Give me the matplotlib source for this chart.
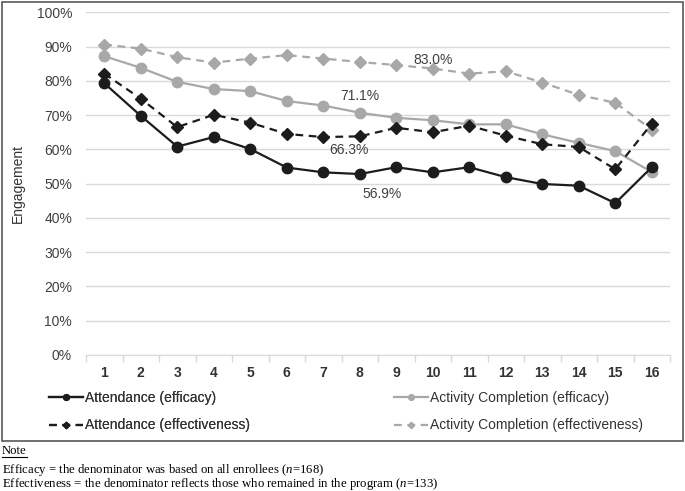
import matplotlib
matplotlib.use("Agg")
import matplotlib.pyplot as plt
from matplotlib.lines import Line2D
from matplotlib.patches import Rectangle
from matplotlib.ticker import FixedLocator, PercentFormatter

plt.rcParams['font.family'] = ['Liberation Sans', 'DejaVu Sans']
plt.rcParams['mathtext.fontset'] = 'custom'
plt.rcParams['mathtext.rm'] = 'Liberation Serif'
plt.rcParams['mathtext.it'] = 'Liberation Serif:italic'

sessions = list(range(1, 17))
attendance_efficacy = [79.3, 69.8, 60.8, 63.6, 60.1, 54.7, 53.3, 52.8, 54.8, 53.3, 54.8, 51.9, 49.9, 49.4, 44.3, 54.8]
activity_efficacy = [87.2, 83.8, 79.7, 77.6, 77.0, 74.1, 72.8, 70.7, 69.2, 68.5, 67.3, 67.3, 64.4, 61.9, 59.5, 53.4]
attendance_effectiveness = [82.1, 74.8, 66.5, 70.1, 67.8, 64.5, 63.6, 63.8, 66.3, 65.0, 66.9, 64.0, 61.5, 60.7, 54.2, 67.5]
activity_effectiveness = [90.6, 89.4, 86.9, 85.3, 86.5, 87.5, 86.5, 85.5, 84.6, 83.6, 82.1, 82.8, 79.5, 75.9, 73.6, 65.8]

annotations = [("83.0%", 10, 86.0), ("71.1%", 8, 75.5), ("66.3%", 7.7, 59.7), ("56.9%", 8.6, 47.0)]

W, H = 685, 491
fig = plt.figure(figsize=(W / 100, H / 100), dpi=100)
ax = fig.add_axes([86 / W, 1 - 355 / H, (670 - 86) / W, (355 - 12.3) / H])

BLACK = '#1c1c1c'
GRAY = '#a8a8a8'

l1, = ax.plot(sessions, attendance_efficacy, color=BLACK, lw=1.6, marker='o', ms=7.5, zorder=4)
l2, = ax.plot(sessions, activity_efficacy, color=GRAY, lw=1.6, marker='o', ms=7.5, zorder=3)
l3, = ax.plot(sessions, attendance_effectiveness, color=BLACK, lw=1.6, ls=(0, (3.5, 2.5)), marker='D', ms=6, zorder=4)
l4, = ax.plot(sessions, activity_effectiveness, color=GRAY, lw=1.6, ls=(0, (3.5, 2.5)), marker='D', ms=6, zorder=3)

for txt, x, y in annotations:
    ax.text(x, y, txt, ha='center', va='center', fontsize=10, color='#404040')

ax.set_xlim(0.5, 16.5)
ax.set_ylim(0, 100)
ax.set_yticks(range(0, 101, 10))
ax.yaxis.set_major_formatter(PercentFormatter(decimals=0))
ax.tick_params(axis='y', length=0, pad=10, labelsize=10, labelcolor='#404040')
ax.grid(axis='y', color='#d9d9d9', lw=1)
ax.set_axisbelow(True)

ax.set_xticks(sessions)
ax.set_xticklabels([str(s) for s in sessions], fontweight='bold', fontsize=10, color='#333333')
ax.tick_params(axis='x', which='major', length=0, pad=8)
ax.xaxis.set_minor_locator(FixedLocator([i + 0.5 for i in range(0, 17)]))
ax.tick_params(axis='x', which='minor', length=5, color='#d9d9d9', width=1)

for s in ['top', 'right', 'left']:
    ax.spines[s].set_visible(False)
ax.spines['bottom'].set_color('#d9d9d9')

ax.set_ylabel('Engagement', fontsize=10, color='#333333')
ax.yaxis.set_label_coords((25 - 86) / (670 - 86), 0.5)

# legends
legkw = dict(loc='upper left', frameon=False, fontsize=10, handlelength=2.45, handletextpad=0.2,
             labelspacing=1.0, borderaxespad=0, labelcolor='#333333', markerscale=0.55)
leg1 = fig.legend([l1, l3], ['Attendance (efficacy)', 'Attendance (effectiveness)'],
                  bbox_to_anchor=(43 / W, 1 - 385 / H), **legkw)
leg2 = fig.legend([l2, l4], ['Activity Completion (efficacy)', 'Activity Completion (effectiveness)'],
                  bbox_to_anchor=(388 / W, 1 - 385 / H), **legkw)
fig.add_artist(leg1)

# outer frame
fig.add_artist(Rectangle((1.5 / W, 1 - 441 / H), (683 - 1.5) / W, (441 - 1.5) / H,
                         transform=fig.transFigure, fill=False, edgecolor='#595959', lw=1.2))

# note
note = fig.text(2 / W, 1 - 451 / H, 'Note', family='Liberation Serif', fontsize=9.2, va='center', ha='left')
fig.text(2 / W, 1 - 469.5 / H, r'Efficacy = the denominator was based on all enrollees ($\mathit{n}$=168)',
         family='Liberation Serif', fontsize=9.2, va='center', ha='left')
fig.text(2 / W, 1 - 484.5 / H, r'Effectiveness = the denominator reflects those who remained in the program ($\mathit{n}$=133)',
         family='Liberation Serif', fontsize=9.2, va='center', ha='left')

fig.canvas.draw()
bb = note.get_window_extent().transformed(fig.transFigure.inverted())
fig.add_artist(Line2D([bb.x0, bb.x1], [bb.y0 + 0.5 / H, bb.y0 + 0.5 / H], transform=fig.transFigure,
                      color='black', lw=0.8))

fig.savefig('out.png', dpi=100)
